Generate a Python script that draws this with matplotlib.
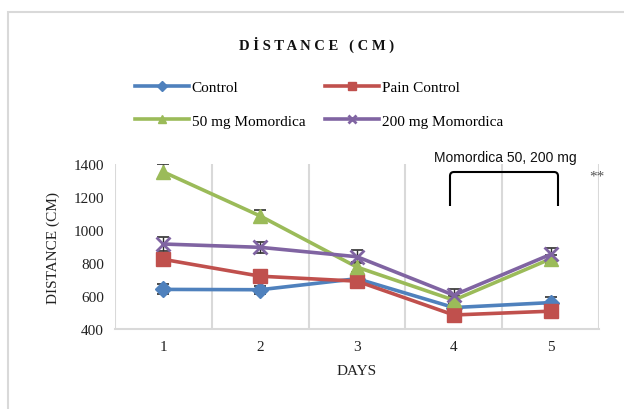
import matplotlib
matplotlib.use("Agg")
import matplotlib.pyplot as plt
from matplotlib.patches import Rectangle
from matplotlib.path import Path
from matplotlib.patches import PathPatch

days = [1, 2, 3, 4, 5]
control = [640, 638, 705, 530, 560]
pain_control = [822, 720, 690, 485, 508]
mom50 = [1352, 1085, 775, 575, 825]
mom200 = [915, 895, 838, 605, 852]

control_err = [30, 25, 20, 20, 35]
pain_err = [25, 20, 20, 20, 20]
mom50_err = [45, 35, 30, 25, 25]
mom200_err = [42, 32, 40, 35, 40]

names = ["Control", "Pain Control", "50 mg Momordica", "200 mg Momordica"]
colors = ["#4F81BD", "#C0504D", "#9BBB59", "#8064A2"]
markers = ["D", "s", "^", "x"]
msizes = [8, 10, 10, 10]

W, H = 624, 410
fig = plt.figure(figsize=(W / 100, H / 100), dpi=100)
serif = ["Liberation Serif", "DejaVu Serif"]

# outer chart frame
fig.patches.append(Rectangle((8 / W, -0.1), 1.2, 1 - 13 / H + 0.1, transform=fig.transFigure,
                             fill=False, edgecolor="#D9D9D9", linewidth=1.5))

ax = fig.add_axes([115 / W, 1 - 330 / H, (599 - 115) / W, (330 - 165) / H])

series = [control, pain_control, mom50, mom200]
errs = [control_err, pain_err, mom50_err, mom200_err]
handles = []
for vals, err, name, c, m, ms in zip(series, errs, names, colors, markers, msizes):
    ax.errorbar(days, vals, yerr=err, fmt="none", ecolor="#303030", elinewidth=1,
                capsize=4, capthick=1.2, zorder=2)
    ln, = ax.plot(days, vals, color=c, lw=2.6, marker=m, ms=ms, mew=2 if m == "x" else 1,
                  mec=c, mfc=c, label=name, zorder=3)
    handles.append(ln)

ax.set_xlim(0.5, 5.5)
ax.set_ylim(400, 1400)
ax.set_yticks(range(400, 1401, 200))
ax.set_xticks(days)
for b in [0.5, 1.5, 2.5, 3.5, 4.5, 5.5]:
    ax.axvline(b, color="#D9D9D9", lw=1.5, zorder=0)
for s in ["top", "right", "left"]:
    ax.spines[s].set_visible(False)
ax.spines["bottom"].set_color("#D9D9D9")
ax.spines["bottom"].set_linewidth(1.5)
ax.tick_params(length=0, labelsize=11, colors="#222222", pad=8)
for lab in ax.get_xticklabels() + ax.get_yticklabels():
    lab.set_family(serif)
ax.set_xlabel("DAYS", family=serif, fontsize=11, color="#222222", labelpad=8)
ax.set_ylabel("DISTANCE (CM)", family=serif, fontsize=11, color="#222222", labelpad=10)

fig.text(317 / W, 1 - 45 / H, "D İ S T A N C E   ( C M )", ha="center", va="center",
         family=serif, fontsize=10.5, fontweight="bold", color="#111111")

order = [0, 2, 1, 3]
leg = fig.legend([handles[i] for i in order], [names[i] for i in order], ncol=2,
                 loc="center", bbox_to_anchor=(319 / W, 1 - 105 / H), frameon=False,
                 prop={"family": serif, "size": 11}, handlelength=3.5, handletextpad=0.2,
                 columnspacing=1.3, labelspacing=1.3, borderpad=0, markerscale=0.6)

# significance bracket
x0, x1, yt, yb = 450, 558, 173, 207
verts = [(x0, yb), (x0, yt + 4), (x0, yt), (x0 + 4, yt), (x1 - 4, yt), (x1, yt), (x1, yt + 4), (x1, yb)]
codes = [Path.MOVETO, Path.LINETO, Path.CURVE3, Path.CURVE3, Path.LINETO, Path.CURVE3, Path.CURVE3, Path.LINETO]
verts = [(x / W, 1 - y / H) for x, y in verts]
fig.patches.append(PathPatch(Path(verts, codes), transform=fig.transFigure, fill=False,
                             edgecolor="black", lw=1.5))
fig.text(505 / W, 1 - 158 / H, "Momordica 50, 200 mg", ha="center", va="center",
         family="Liberation Sans", fontsize=10, color="#111111")
fig.text(597 / W, 1 - 177 / H, "**", ha="center", va="center", family=serif,
         fontsize=11, color="#555555")

fig.savefig("out.png", dpi=100)
